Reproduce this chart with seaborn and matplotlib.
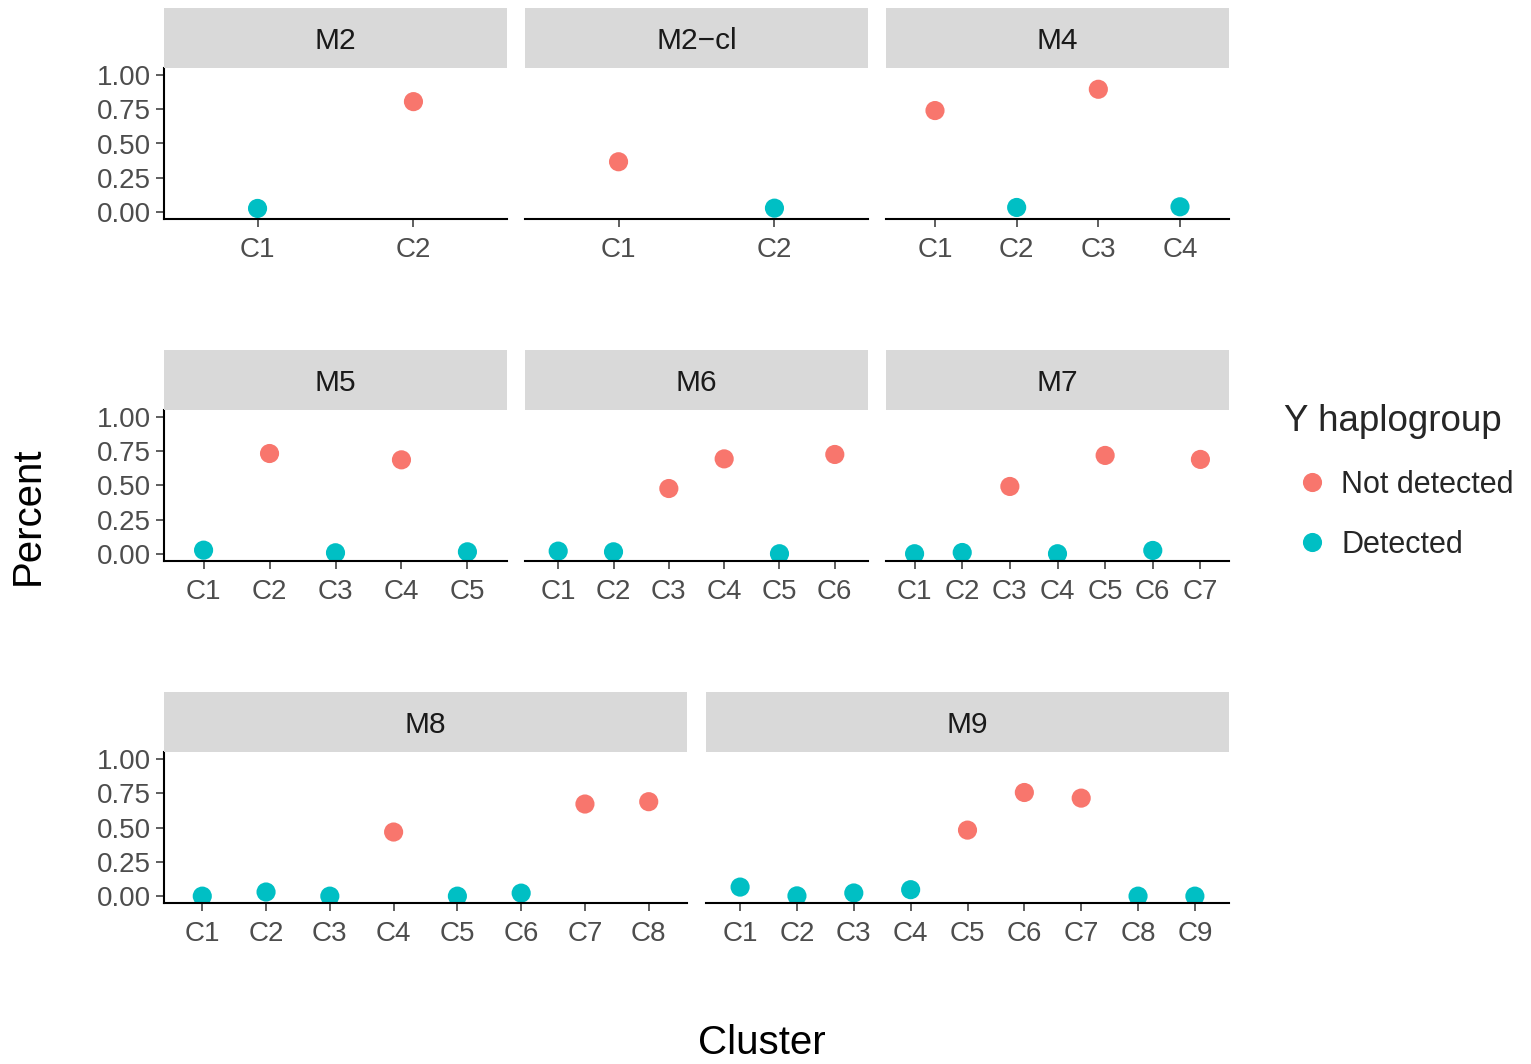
import matplotlib
matplotlib.use("Agg")
import matplotlib.pyplot as plt
import seaborn as sns
import pandas as pd

sns.set_theme(style="white")
plt.rcParams["font.family"] = ["Liberation Sans", "DejaVu Sans"]

# %%
# share of samples per cluster, by whether a Y haplogroup was detected
models = ["M2", "M2-cl", "M4", "M5", "M6", "M7", "M8", "M9"]
strip_labels = ["M2", "M2\u2212cl", "M4", "M5", "M6", "M7", "M8", "M9"]

pct_m2 = [0.027, 0.805]
grp_m2 = ["D", "N"]
pct_m2cl = [0.367, 0.029]
grp_m2cl = ["N", "D"]
pct_m4 = [0.74, 0.034, 0.895, 0.039]
grp_m4 = ["N", "D", "N", "D"]
pct_m5 = [0.029, 0.733, 0.01, 0.687, 0.017]
grp_m5 = ["D", "N", "D", "N", "D"]
pct_m6 = [0.022, 0.017, 0.478, 0.694, 0.003, 0.726]
grp_m6 = ["D", "D", "N", "N", "D", "N"]
pct_m7 = [0.003, 0.012, 0.493, 0.003, 0.719, 0.027, 0.69]
grp_m7 = ["D", "D", "N", "D", "N", "D", "N"]
pct_m8 = [0.0, 0.03, 0.0, 0.467, 0.0, 0.022, 0.671, 0.688]
grp_m8 = ["D", "D", "D", "N", "D", "D", "N", "N"]
pct_m9 = [0.066, 0.002, 0.023, 0.047, 0.481, 0.755, 0.714, 0.0, 0.0]
grp_m9 = ["D", "D", "D", "D", "N", "N", "N", "D", "D"]

group_names = {"N": "Not detected", "D": "Detected"}
hue_order = ["Not detected", "Detected"]
palette = ["#F8766D", "#00BFC4"]
y_ticks = [0.0, 0.25, 0.5, 0.75, 1.0]

all_pct = [pct_m2, pct_m2cl, pct_m4, pct_m5, pct_m6, pct_m7, pct_m8, pct_m9]
all_grp = [grp_m2, grp_m2cl, grp_m4, grp_m5, grp_m6, grp_m7, grp_m8, grp_m9]

frames = []
for m, p, g in zip(models, all_pct, all_grp):
    frames.append(
        pd.DataFrame(
            {
                "model": m,
                "cluster": [f"C{k + 1}" for k in range(len(p))],
                "percent": p,
                "group": [group_names[x] for x in g],
            }
        )
    )
df = pd.concat(frames, ignore_index=True)

# %%
W, H = 1531, 1064
fig = plt.figure(figsize=(W / 100, H / 100), dpi=100)

# panel boxes in pixels: left, right, strip top, panel top, panel bottom
rows = [(8, 68, 219), (350, 410, 561), (692, 752, 903)]
cols_3 = [(164, 507), (525, 868), (886, 1229)]
cols_2 = [(164, 687), (706, 1229)]
boxes = []
for r in range(2):
    for c in cols_3:
        boxes.append((c, rows[r]))
for c in cols_2:
    boxes.append((c, rows[2]))

leg_handles, leg_labels = None, None

for i, (m, lab) in enumerate(zip(models, strip_labels)):
    (x0, x1), (st, pt, pb) = boxes[i]
    ax = fig.add_axes([x0 / W, 1 - pb / H, (x1 - x0) / W, (pb - pt) / H])
    sax = fig.add_axes([x0 / W, 1 - pt / H, (x1 - x0) / W, (pt - st) / H])
    sax.set_facecolor("#D9D9D9")
    sax.set_xticks([])
    sax.set_yticks([])
    for s in sax.spines.values():
        s.set_visible(False)
    sax.text(0.5, 0.31, lab, ha="center", va="baseline", fontsize=21.5,
             color="#1A1A1A", transform=sax.transAxes)

    sub = df[df["model"] == m]
    sns.scatterplot(
        data=sub,
        x="cluster",
        y="percent",
        hue="group",
        hue_order=hue_order,
        palette=palette,
        s=190,
        linewidth=0,
        ax=ax,
        legend=(i == 0),
    )
    if i == 0:
        leg = ax.get_legend()
        leg_handles = leg.legend_handles
        leg_labels = [t.get_text() for t in leg.get_texts()]
        leg.remove()

    n = len(sub)
    ax.set_xlim(-0.6, n - 0.4)
    ax.set_ylim(-0.05, 1.05)
    ax.set_xlabel("")
    ax.set_ylabel("")
    ax.spines["top"].set_visible(False)
    ax.spines["right"].set_visible(False)
    ax.spines["bottom"].set_color("black")
    ax.spines["bottom"].set_linewidth(1.5)
    ax.tick_params(axis="both", length=5.5, width=1.1, color="#333333",
                   labelcolor="#4D4D4D", labelsize=20, pad=4, bottom=True)
    ax.tick_params(axis="x", pad=7.5)
    ax.set_yticks(y_ticks)
    if i in (0, 3, 6):
        ax.set_yticklabels([f"{v:.2f}" for v in y_ticks])
        ax.spines["left"].set_color("black")
        ax.spines["left"].set_linewidth(1.5)
        ax.tick_params(axis="y", left=True)
    else:
        ax.spines["left"].set_visible(False)
        ax.tick_params(axis="y", left=False, labelleft=False)

fig.text(28 / W, 1 - 516 / H, "Percent", rotation=90, ha="center",
         va="center", fontsize=29, color="black")
fig.text(762 / W, 1 - 1043 / H, "Cluster", ha="center", va="center",
         fontsize=29, color="black")

legend = fig.legend(
    leg_handles,
    leg_labels,
    title="Y haplogroup",
    loc="upper left",
    bbox_to_anchor=(1284 / W, 1 - 404 / H),
    borderaxespad=0,
    borderpad=0,
    frameon=False,
    fontsize=22,
    title_fontsize=26.5,
    alignment="left",
    handlelength=1.85,
    handletextpad=0.02,
    labelspacing=1.0,
)

plt.savefig("out.png", dpi=100)
